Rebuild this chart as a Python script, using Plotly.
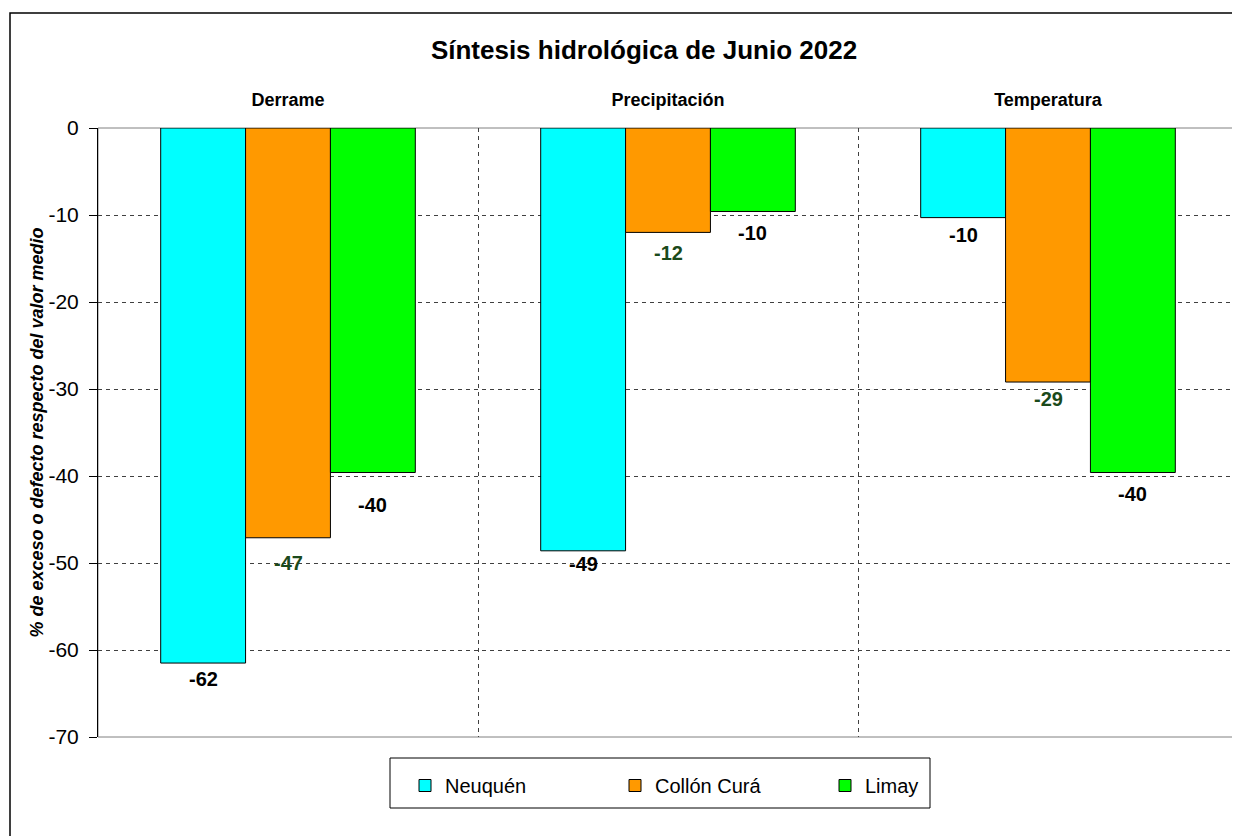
import plotly.graph_objects as go

categories = ["Derrame", "Precipitación", "Temperatura"]
series_names = ["Neuquén", "Collón Curá", "Limay"]
neuquen = [-61.5, -48.6, -10.3]
collon_cura = [-47.1, -12.0, -29.2]
limay = [-39.6, -9.6, -39.6]
y_ticks = [0, -10, -20, -30, -40, -50, -60, -70]

series_values = [neuquen, collon_cura, limay]
colors = ["#00FFFF", "#FF9900", "#00FF00"]
label_colors = ["#000000", "#1B4A1B", "#000000"]
# pixel offset of each value label below its bar end (style, per series per category)
label_offsets = [[16, 13, 17], [25, 21, 17], [32, 21, 21]]

PAGE_OFF = 8  # browser body margin
W, H = 1240 - PAGE_OFF, 836 - PAGE_OFF
ML, MR, MT, MB = 98 - PAGE_OFF, 2, 128 - PAGE_OFF, 99
BARGAP = 0.33
plot_w = W - ML - MR
plot_h = H - MT - MB
bar_px = plot_w / len(categories) * (1 - BARGAP) / len(series_names)


def px_x(page_x):
    return (page_x - 98) / plot_w


def px_y(page_y):
    return (737 - page_y) / plot_h


xpos = list(range(len(categories)))

fig = go.Figure()
for i, (name, vals) in enumerate(zip(series_names, series_values)):
    fig.add_trace(go.Bar(
        x=xpos, y=vals, name=name,
        marker=dict(color=colors[i], line=dict(color="#000000", width=1)),
        hoverinfo="y+name",
    ))
    for j, v in enumerate(vals):
        fig.add_annotation(
            x=xpos[j], y=v, xref="x", yref="y",
            text=f"<b>{round(v):d}</b>", showarrow=False,
            xshift=(i - 1) * bar_px, yshift=-label_offsets[i][j],
            font=dict(family="Liberation Sans, Arial", size=20, color=label_colors[i]),
            xanchor="center", yanchor="middle",
        )

grid_col = "#404040"

fig.update_layout(
    width=W, height=H,
    margin=dict(l=ML, r=MR, t=MT, b=MB),
    paper_bgcolor="white", plot_bgcolor="white",
    barmode="group", bargap=BARGAP, bargroupgap=0,
    font=dict(family="Liberation Sans, Arial", color="#000000"),
    title=dict(
        text="<b>Síntesis hidrológica de Junio 2022</b>",
        font=dict(size=26, color="#000000"),
        x=(644 - PAGE_OFF) / W, xref="container", xanchor="center",
        y=1 - (50 - PAGE_OFF) / H, yref="container", yanchor="middle",
    ),
    xaxis=dict(
        range=[-0.5, len(categories) - 0.5],
        tickmode="array", tickvals=xpos,
        ticktext=[f"<b>{c}</b>" for c in categories],
        side="top", ticks="", ticklabelstandoff=17,
        tickfont=dict(size=18, color="#000000"),
        showgrid=False, zeroline=False, showline=False,
        minor=dict(tickmode="array",
                   tickvals=[k + 0.5 for k in xpos[:-1]],
                   showgrid=True, gridcolor=grid_col, griddash="4px,4px", gridwidth=1,
                   ticks=""),
        fixedrange=True,
    ),
    yaxis=dict(
        range=[-70, 0], tickmode="array", tickvals=y_ticks,
        ticktext=[str(t) for t in y_ticks],
        ticks="outside", ticklen=8, tickcolor="#000000",
        ticklabelstandoff=6,
        tickfont=dict(size=21, color="#000000"),
        showline=True, linecolor="#000000", linewidth=1,
        showgrid=True, gridcolor=grid_col, griddash="4px,4px", gridwidth=1,
        zeroline=False,
        title=dict(text="<b><i>% de exceso o defecto respecto del valor medio</i></b>",
                   font=dict(size=18, color="#000000"), standoff=0),
        fixedrange=True,
    ),
    showlegend=True,
    legend=dict(
        orientation="h", x=px_x(405), xanchor="left",
        y=px_y(766), yanchor="top",
        font=dict(size=20, color="#000000"),
        bgcolor="rgba(0,0,0,0)", borderwidth=0,
        entrywidth=165, entrywidthmode="pixels",
        traceorder="normal",
    ),
)

# plot-area frame (gray), legend box and outer chart frame
fig.add_shape(type="rect", xref="paper", yref="paper", x0=0, x1=1, y0=0, y1=1,
              line=dict(color="#808080", width=1), layer="below")
fig.add_shape(type="rect", xref="paper", yref="paper",
              x0=px_x(390), x1=px_x(930),
              y0=px_y(808), y1=px_y(758),
              line=dict(color="#000000", width=1), layer="above")
fig.add_shape(type="rect", xref="paper", yref="paper",
              x0=px_x(10), x1=px_x(1260),
              y0=px_y(860), y1=px_y(13),
              line=dict(color="#000000", width=1.5), layer="above")

fig.write_html("out.html")
